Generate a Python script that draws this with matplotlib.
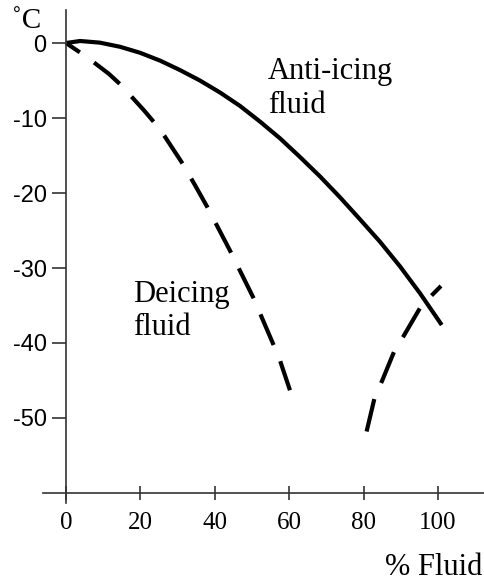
import numpy as np
import matplotlib
matplotlib.use('Agg')
from matplotlib import pyplot as plt

# anti-icing fluid (solid)
anti_x = [0, 3.8, 9.1, 14.5, 19.9, 25.3, 30.6, 36.0, 41.4, 46.8, 52.2, 57.5,
          62.9, 68.3, 73.7, 79.0, 84.4, 89.8, 95.2, 101.0]
anti_y = [0, 0.27, 0.05, -0.5, -1.3, -2.35, -3.6, -5.0, -6.6, -8.4, -10.5, -12.7,
          -15.2, -17.8, -20.6, -23.5, -26.5, -29.8, -33.4, -37.6]

# deicing fluid (dashed, two branches)
dei_x = [0, 4.2, 7.8, 11.5, 15.0, 17.7, 21.0, 23.9, 26.6, 31.1, 34.5, 37.9, 44.0, 50.3, 57.3, 60.2]
dei_y = [0, -1.4, -2.7, -4.1, -5.7, -7.2, -9.0, -10.7, -12.5, -15.9, -18.8, -21.8, -27.6, -33.9, -42.0, -46.3]
dei2_x = [80.8, 83, 85, 88.4, 90.6, 95.2, 98.4, 100.8]
dei2_y = [-51.8, -47.2, -45.0, -40.9, -39.2, -35.3, -33.6, -32.4]

xticks = [0, 20, 40, 60, 80, 100]
yticks = [0, -10, -20, -30, -40, -50]

serif = 'Liberation Serif'
sans = 'Liberation Sans'

fig = plt.figure(figsize=(4.84, 5.83), dpi=100)
ax = fig.add_axes([0.0864, 0.1351, 0.9147, 0.849])
ax.set_xlim(-6.5, 112.5)
ax.set_ylim(-61.5, 4.5)

ax.plot(anti_x, anti_y, color='black', lw=3, solid_capstyle='butt', solid_joinstyle='round')
ax.plot(dei_x, dei_y, color='black', lw=3, linestyle=(4, (8, 4.2)), dash_capstyle='butt')
ax.plot(dei2_x, dei2_y, color='black', lw=3, linestyle=(0, (8, 4.2)), dash_capstyle='butt')

# axes crossing at (0, -60)
ax.spines['top'].set_visible(False)
ax.spines['right'].set_visible(False)
ax.spines['left'].set_position(('data', 0))
ax.spines['bottom'].set_position(('data', -60))
ax.spines['left'].set_bounds(-61.3, 4.4)
ax.spines['bottom'].set_bounds(-6.2, 112.5)
for s in ['left', 'bottom']:
    ax.spines[s].set_linewidth(1.2)
    ax.spines[s].set_color('#333333')

ax.set_xticks(xticks)
ax.set_xticklabels([str(v) for v in xticks], fontfamily=serif, fontsize=18)
ax.set_yticks(yticks)
ax.set_yticklabels([str(v) for v in yticks], fontfamily=sans, fontsize=17)
ax.tick_params(axis='x', direction='inout', length=10, width=1.2, pad=9, color='#333333')
ax.tick_params(axis='y', direction='out', length=10, width=1.2, pad=4, color='#333333')

ax.text(54.3, -1.9, 'Anti-icing\nfluid', fontfamily=serif, fontsize=22, va='top', ha='left')
ax.text(18, -31.6, 'Deicing\nfluid', fontfamily=serif, fontsize=22, va='top', ha='left')

fig.text(12 / 484, 1 - 8 / 583, '˚C', fontfamily=serif, fontsize=21, va='top', ha='left')
fig.text(482 / 484, 1 - 582 / 583, '% Fluid', fontfamily=serif, fontsize=22, va='bottom', ha='right')

fig.savefig('out.png', dpi=100)
